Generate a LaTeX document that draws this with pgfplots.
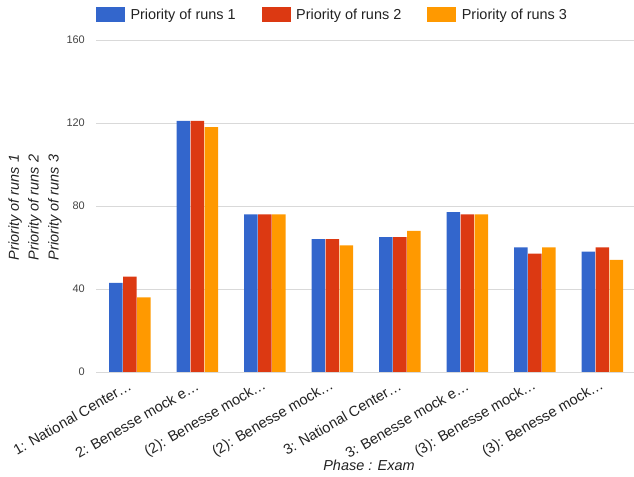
\documentclass[border=0pt]{standalone}
\usepackage{fontspec}
\setmainfont{Liberation Sans}
\usepackage{pgfplots}
\pgfplotsset{compat=1.18}
\definecolor{cBlue}{HTML}{3366CC}
\definecolor{cRed}{HTML}{DC3912}
\definecolor{cOrange}{HTML}{FF9900}
\definecolor{gridc}{HTML}{D9D9D9}
\definecolor{basec}{HTML}{777777}
\definecolor{txt}{HTML}{222222}
\definecolor{tickc}{HTML}{444444}
\pgfplotsset{/pgfplots/ybar legend/.style={/pgfplots/legend image code/.code={\fill[##1] (0bp,-7.5bp) rectangle (29bp,7.5bp);}}}
\begin{document}
\begin{tikzpicture}
\useasboundingbox (0,0) rectangle (634bp,477bp);
\begin{axis}[
  at={(96bp,105bp)}, anchor=south west,
  width=538bp, height=332bp, scale only axis,
  xmin=-0.5, xmax=7.47, ymin=0, ymax=160,
  ytick={0,40,80,120,160},
  xtick={0,...,7},
  xticklabels={1: National Center…,2: Benesse mock e…,(2): Benesse mock…,(2): Benesse mock…,3: National Center…,3: Benesse mock e…,(3): Benesse mock…,(3): Benesse mock…},
  ymajorgrids, grid style={gridc, line width=0.9bp},
  axis line style={draw=none}, major tick length=0pt,
  /pgf/number format/assume math mode=true,
  yticklabel style={font=\fontsize{11}{13}\selectfont, text=tickc, inner sep=0pt, xshift=-11bp, anchor=east},
  xticklabel style={font=\fontsize{14.6}{16}\selectfont, text=txt, rotate=30, anchor=east, inner sep=0pt, yshift=-11bp, xshift=-6bp},
  xlabel={Phase : Exam},
  xlabel style={at={(axis description cs:0.5074,-0.2801)}, anchor=center, font=\itshape\fontsize{14.5}{17}\selectfont, text=txt},
  ylabel={Priority of runs 1\\Priority of runs 2\\Priority of runs 3},
  ylabel style={at={(axis description cs:-0.1134,0.4955)}, anchor=center, align=center, font=\itshape\fontsize{14.5}{20}\selectfont, text=txt},
  ybar=0.5bp, bar width=13.5bp,
  legend columns=3,
  legend cell align=left,
  legend style={at={(axis description cs:0,1)}, anchor=west, yshift=25bp, draw=none, fill=none, inner sep=0pt, outer sep=0pt,
    font=\fontsize{14.5}{17}\selectfont, text=txt, nodes={inner sep=0pt},
    /tikz/every odd column/.style={column sep=5.5bp},
    /tikz/every even column/.style={column sep=26bp}},
]
\addplot[fill=cBlue, draw=none] coordinates {(0,43) (1,121) (2,76) (3,64) (4,65) (5,77) (6,60) (7,58)};
\addplot[fill=cRed, draw=none] coordinates {(0,46) (1,121) (2,76) (3,64) (4,65) (5,76) (6,57) (7,60)};
\addplot[fill=cOrange, draw=none] coordinates {(0,36) (1,118) (2,76) (3,61) (4,68) (5,76) (6,60) (7,54)};
\legend{Priority of runs 1, Priority of runs 2, Priority of runs 3}
\draw[basec, line width=1bp] (rel axis cs:0,0) -- (rel axis cs:1,0);
\end{axis}
\end{tikzpicture}
\end{document}
